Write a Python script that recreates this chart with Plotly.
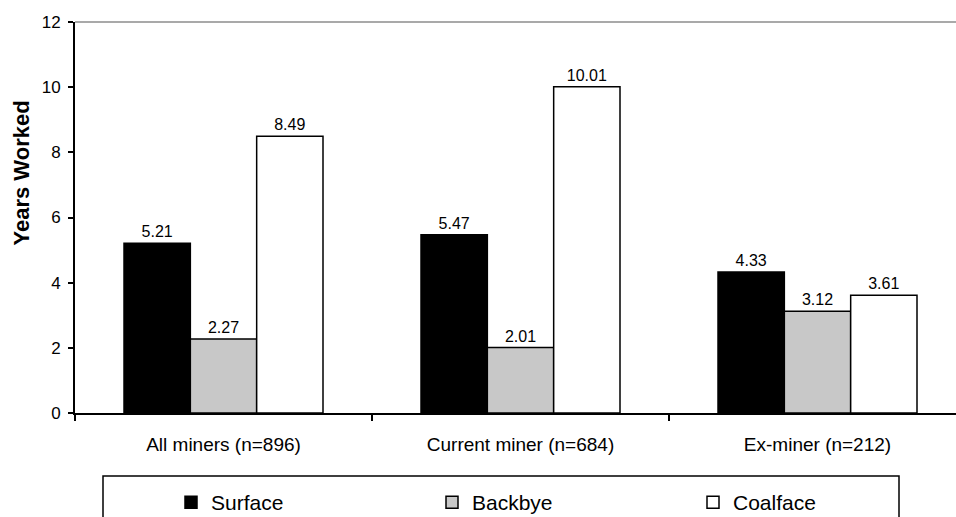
import plotly.graph_objects as go

categories = ["All miners (n=896)", "Current miner (n=684)", "Ex-miner (n=212)"]
surface = [5.21, 5.47, 4.33]
backbye = [2.27, 2.01, 3.12]
coalface = [8.49, 10.01, 3.61]
series_names = ["Surface", "Backbye", "Coalface"]
series_colors = ["#000000", "#C8C8C8", "#FFFFFF"]
y_ticks = [0, 2, 4, 6, 8, 10, 12]

FONT = "Liberation Sans, Arial, sans-serif"
W, H = 956, 517
ML, MT, MB = 75, 22, 104
PW = W - ML
PH = H - MT - MB
CAT_PX = 297.0

def px_to_paper_x(px):
    return (px - ML) / PW

def px_to_paper_y(py):
    return (H - MB - py) / PH

fig = go.Figure()
for name, vals, col in zip(series_names, [surface, backbye, coalface], series_colors):
    fig.add_trace(go.Bar(
        name=name, x=categories, y=vals,
        marker=dict(color=col, line=dict(color="#000000", width=1.5)),
        text=[f"{v:.2f}" for v in vals], textposition="outside",
        textfont=dict(family=FONT, size=16, color="#000000"),
        cliponaxis=False,
    ))

span = PW / CAT_PX
fig.update_layout(
    width=W, height=H,
    margin=dict(l=ML, r=0, t=MT, b=MB, pad=0, autoexpand=False),
    paper_bgcolor="white", plot_bgcolor="white",
    barmode="group", bargap=0.33, bargroupgap=0,
    font=dict(family=FONT, color="#000000"),
    showlegend=True,
    legend=dict(orientation="h", x=px_to_paper_x(171), y=px_to_paper_y(482),
                xanchor="left", yanchor="top",
                font=dict(family=FONT, size=21, color="#000000"),
                entrywidth=216, entrywidthmode="pixels",
                bgcolor="rgba(0,0,0,0)", borderwidth=0),
    xaxis=dict(type="category", range=[-0.5, -0.5 + span],
               showline=True, linecolor="#000000", linewidth=2,
               ticks="outside", tickson="boundaries", ticklen=6, tickwidth=1.5, tickcolor="#000000",
               tickfont=dict(family=FONT, size=19, color="#000000"),
               ticklabelstandoff=13, showgrid=False, zeroline=False, fixedrange=True),
    yaxis=dict(range=[0, 12], tickvals=y_ticks, showline=True, linecolor="#000000", linewidth=2,
               ticks="outside", ticklen=5, tickwidth=1.5, tickcolor="#000000",
               tickfont=dict(family=FONT, size=17, color="#000000"),
               ticklabelstandoff=4, showgrid=False, zeroline=False, fixedrange=True),
    shapes=[
        dict(type="line", xref="paper", yref="paper", x0=0, x1=1, y0=1, y1=1,
             line=dict(color="#8C8C8C", width=1.5)),
        dict(type="rect", xref="paper", yref="paper",
             x0=px_to_paper_x(103), x1=px_to_paper_x(899),
             y0=px_to_paper_y(476), y1=px_to_paper_y(540),
             line=dict(color="#000000", width=1.5), fillcolor="rgba(0,0,0,0)"),
    ],
    annotations=[
        dict(text="<b>Years Worked</b>", textangle=-90, showarrow=False,
             xref="paper", yref="paper", x=px_to_paper_x(21), y=px_to_paper_y(248),
             xanchor="center", yanchor="bottom",
             font=dict(family=FONT, size=22, color="#000000")),
    ],
)

fig.write_html("out.html")
